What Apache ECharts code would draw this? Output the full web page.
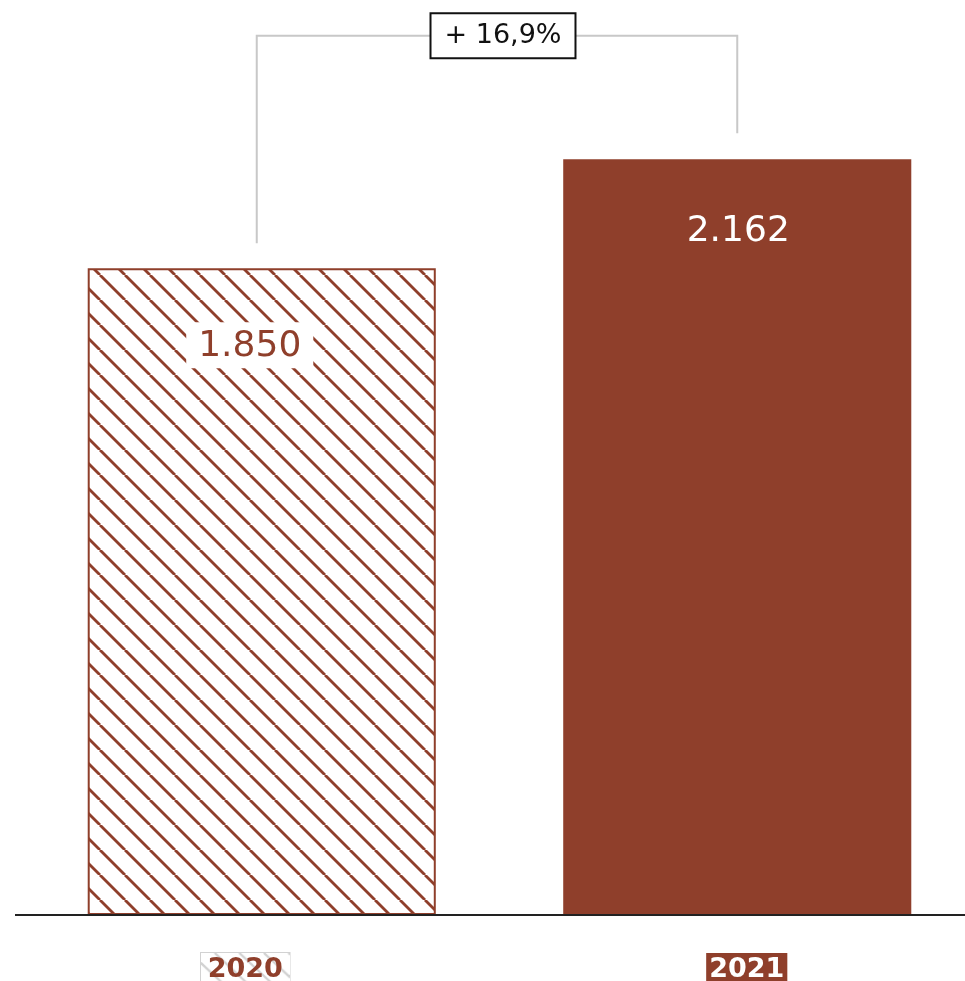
<!DOCTYPE html>
<html>
<head>
<meta charset="utf-8">
<script src="https://cdn.jsdelivr.net/npm/echarts@6/dist/echarts.min.js"></script>
<style>
  html, body { margin: 0; padding: 0; background: #fff; }
  #chart { width: 965px; height: 981px; }
</style>
</head>
<body>
<div id="chart"></div>
<script>
// Yearly totals
const years = ['2020', '2021'];
const totals = [1850, 2162];
// Height (in value units) of the bracket joining the two bars
const bracketLevel = 2515;

const BRICK = '#8f3f2b';

// Canvas filled with diagonal hatching (top-left to bottom-right strokes)
function hatchCanvas(w, h, step, color, width, bg) {
  const c = document.createElement('canvas');
  c.width = w; c.height = h;
  const g = c.getContext('2d');
  if (bg) { g.fillStyle = bg; g.fillRect(0, 0, w, h); }
  g.strokeStyle = color;
  g.lineWidth = width;
  for (let x0 = -h - step; x0 < w + step; x0 += step) {
    g.beginPath();
    g.moveTo(x0, 0);
    g.lineTo(x0 + h, h);
    g.stroke();
  }
  return c;
}
// repeating tile for the bar (square, so strokes join seamlessly)
const barHatch = hatchCanvas(25, 25, 25, BRICK, 2.8, '#fff');
// full-size hatched plate behind the first year's tick label
const labelHatch = hatchCanvas(90, 36, 25, '#d2d2d2', 2.4, '#fff');

const fmt = v => v.toLocaleString('de-DE');
const change = ((totals[1] / totals[0] - 1) * 100).toFixed(1).replace('.', ',');

const FONT = 'DejaVu Sans';

const chart = echarts.init(document.getElementById('chart'));
chart.setOption({
  animation: false,
  grid: { left: 24, width: 951, top: 6, bottom: 66, outerBoundsMode: 'none' },
  xAxis: {
    type: 'category',
    data: years,
    axisLine: { show: false },
    axisTick: { show: false },
    axisLabel: {
      margin: 38,
      // empty spacer blocks nudge each tag slightly off the bar centre
      formatter: (v, i) => (i === 0 ? '{a|' + v + '}{gapA|}' : '{gapB|}{b|' + v + '}'),
      rich: {
        a: {
          fontFamily: FONT, fontWeight: 'bold', fontSize: 27, color: BRICK,
          backgroundColor: { image: labelHatch },
          borderColor: '#d2d2d2', borderWidth: 2,
          padding: [3, 3, 3, 3]
        },
        b: {
          fontFamily: FONT, fontWeight: 'bold', fontSize: 27, color: '#fff',
          backgroundColor: BRICK,
          padding: [3, 3, 3, 3]
        },
        gapA: { width: 33 },
        gapB: { width: 19 }
      }
    }
  },
  yAxis: { type: 'value', min: 0, max: 2600, show: false },
  graphic: [{
    type: 'line',
    shape: { x1: 15, y1: 915, x2: 965, y2: 915 },
    style: { stroke: '#222', lineWidth: 2 },
    z: 10
  }],
  series: [
    {
      type: 'bar',
      barWidth: '73.2%',
      data: totals.map((v, i) => ({
        value: v,
        itemStyle: i === 0
          ? { color: { image: barHatch, repeat: 'repeat' }, borderColor: BRICK, borderWidth: 2 }
          : { color: BRICK },
        label: i === 0
          ? { color: BRICK, backgroundColor: '#fff', padding: [6, 12, 4, 12], distance: 54, offset: [-12, 0] }
          : { color: '#fff', distance: 55, offset: [1, 0] }
      })),
      label: {
        show: true,
        position: 'insideTop',
        fontFamily: FONT,
        fontSize: 36,
        formatter: p => fmt(p.value)
      }
    },
    {
      // bracket joining the two bar tops, with the change badge in the middle
      type: 'custom',
      data: [[0, totals[0], totals[1], bracketLevel]],
      renderItem: (params, api) => {
        const a = api.coord([0, api.value(1)]);
        const b = api.coord([1, api.value(2)]);
        const top = api.coord([0, api.value(3)])[1];
        const xa = a[0] - 5, xb = b[0];
        const midX = (xa + xb) / 2 + 6;
        return {
          type: 'group',
          children: [
            {
              type: 'polyline',
              shape: { points: [[xa, a[1] - 25], [xa, top], [xb, top], [xb, b[1] - 26]] },
              style: { stroke: '#c8c8c8', lineWidth: 2, fill: null }
            },
            {
              type: 'text',
              x: midX, y: top,
              style: {
                text: '+ ' + change + '%',
                fontFamily: FONT, fontSize: 27, fill: '#111',
                align: 'center', verticalAlign: 'middle',
                backgroundColor: '#fff', borderColor: '#111', borderWidth: 2,
                padding: [8, 13, 8, 13]
              }
            }
          ]
        };
      }
    }
  ]
});
</script>
</body>
</html>
